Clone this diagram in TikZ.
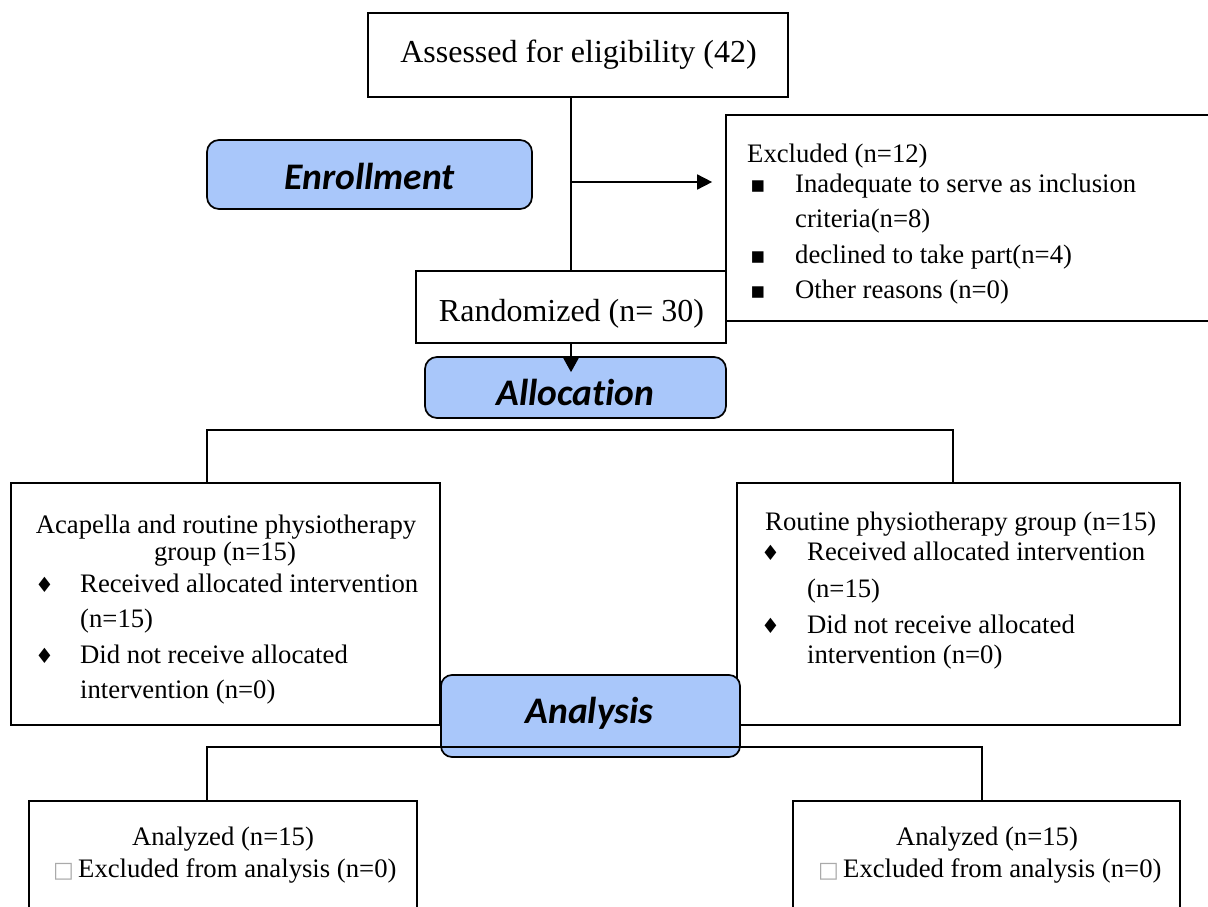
\documentclass[tikz,border=0pt]{standalone}
\usepackage{fontspec}
\setmainfont{Liberation Serif}
\newfontfamily\hdrfont{Carlito}[Ligatures={NoCommon,NoContextual}]
\newfontfamily\symfont{DejaVu Sans}
\usetikzlibrary{arrows.meta}
\definecolor{hdrblue}{RGB}{169,199,250}
\definecolor{boxgray}{RGB}{170,170,170}
\tikzset{
  box/.style={draw, line width=1.7pt, fill=white, inner sep=0pt},
  hdrbox/.style={draw, line width=1.7pt, fill=hdrblue, rounded corners=12pt, inner sep=0pt},
  txt/.style={inner sep=0pt, anchor=base west, font=\fontsize{26.7}{32}\selectfont},
  ctxt/.style={txt, anchor=base},
  bigtxt/.style={inner sep=0pt, anchor=base, font=\fontsize{32}{38}\selectfont},
  htxt/.style={inner sep=0pt, anchor=base, font=\hdrfont\bfseries\itshape\fontsize{37.5}{44}\selectfont},
  sqbul/.style={inner sep=0pt, anchor=base west, font=\symfont\fontsize{23}{26}\selectfont},
  dmbul/.style={inner sep=0pt, anchor=base west, font=\symfont\fontsize{21}{24}\selectfont},
  conn/.style={line width=1.7pt},
  arr/.style={conn, -{Triangle[length=15pt,width=15pt]}},
}
\newcommand{\emptybox}{{\symfont\fontsize{22}{24}\selectfont\color{boxgray}\makebox[25pt][l]{□}}}
\begin{document}
\begin{tikzpicture}[x=1pt,y=-1pt]
\useasboundingbox (0,0) rectangle (1208,907);
\clip (0,0) rectangle (1208,907);
% top part
\node[box, minimum width=420pt, minimum height=84pt] (asses) at (578,55) {};
\node[hdrbox, minimum width=325pt, minimum height=69pt] (enroll) at (369.5,174.5) {};
\node[box, minimum width=490pt, minimum height=206pt] (excl) at (971,218) {};
\node[box, minimum width=310pt, minimum height=72pt] (rand) at (571,307) {};
\node[hdrbox, minimum width=301pt, minimum height=61pt] (alloc) at (575.5,387.5) {};
\draw[conn] (asses.south -| rand.north) -- (rand.north);
\coordinate (branch) at (571,182);
\draw[arr] (branch) -- ([xshift=-13pt]excl.west |- branch);
\draw[arr, -{Triangle[length=14pt,width=15pt]}] (rand.south) -- ([yshift=-16pt]rand.south |- alloc.north);
% groups
\node[box, minimum width=429pt, minimum height=242pt] (grpA) at (225.5,604) {};
\node[box, minimum width=443pt, minimum height=242pt] (grpB) at (958.5,604) {};
\draw[conn] ([xshift=-18.5pt]grpA.north) -- ++(0,-52) -| ([xshift=-5.5pt]grpB.north);
\node[hdrbox, rounded corners=11pt, minimum width=299pt, minimum height=82pt] (anal) at (590.5,716) {};
% analysis boxes
\node[box, minimum width=388pt, minimum height=114pt] (anaA) at (223,858) {};
\node[box, minimum width=387pt, minimum height=114pt] (anaB) at (986.5,858) {};
\draw[conn] ([xshift=-16pt]anaA.north) -- ++(0,-53) -| ([xshift=-4.5pt]anaB.north);
% texts
\node[bigtxt] (tAsses) at (578.5,63) {Assessed for eligibility (42)};
\node[bigtxt] (tRand) at (571.5,321) {Randomized (n= 30)};
\node[htxt] (tEnroll) at (369.5,189) {Enrollment};
\node[htxt] (tAlloc) at (575.5,405) {Allocat\kern0pt ion};
\node[htxt] (tAnal) at (589.5,723) {Analysis};
% excluded
\node[txt] (e0) at (747,162) {Excluded (n=12)};
\node[sqbul] (eb1) at (750,192) {▪};
\node[txt] (e1) at (795,192) {Inadequate to serve as inclusion};
\node[txt] (e2) at (795,227) {criteria(n=8)};
\node[sqbul] (eb2) at (750,263) {▪};
\node[txt] (e3) at (795,263) {declined to take part(n=4)};
\node[sqbul] (eb3) at (750,298) {▪};
\node[txt] (e4) at (795,298) {Other reasons (n=0)};
% group A
\node[ctxt] (a0) at (226,533) {Acapella and routine physiotherapy};
\node[ctxt] (a1) at (225,560) {group (n=15)};
\node[dmbul] (ab1) at (35,592) {♦};
\node[txt] (a2) at (80,592) {Received allocated intervention};
\node[txt] (a3) at (80,627) {(n=15)};
\node[dmbul] (ab2) at (35,663) {♦};
\node[txt] (a4) at (80,663) {Did not receive allocated};
\node[txt] (a5) at (80,698) {intervention (n=0)};
% group B
\node[txt] (b0) at (765,530) {Routine physiotherapy group (n=15)};
\node[dmbul] (bb1) at (761,560) {♦};
\node[txt] (b2) at (807,560) {Received allocated intervention};
\node[txt] (b3) at (807,597) {(n=15)};
\node[dmbul] (bb2) at (761,633) {♦};
\node[txt] (b4) at (807,633) {Did not receive allocated};
\node[txt] (b5) at (807,663) {intervention (n=0)};
% analysed
\node[ctxt] (c0) at (223,845) {Analyzed (n=15)};
\node[txt] (c1) at (53,877) {\emptybox Excluded from analysis (n=0)};
\node[ctxt] (d0) at (987,845) {Analyzed (n=15)};
\node[txt] (d1) at (818,877) {\emptybox Excluded from analysis (n=0)};
\end{tikzpicture}
\end{document}
